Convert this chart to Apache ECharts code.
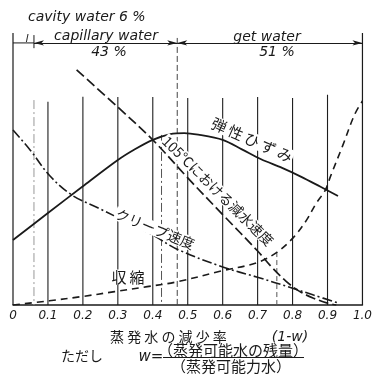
<!DOCTYPE html>
<html><head><meta charset="utf-8">
<script src="https://cdn.jsdelivr.net/npm/echarts@6/dist/echarts.min.js"></script>
<style>html,body{margin:0;padding:0;background:#fff}#c{width:375px;height:378px}</style>
</head><body><div id="c"></div>
<script>
// ---- data ----
const tickValues = [0, 0.1, 0.2, 0.3, 0.4, 0.5, 0.6, 0.7, 0.8, 0.9, 1.0];
const tickLabels = ['0', '0.1', '0.2', '0.3', '0.4', '0.5', '0.6', '0.7', '0.8', '0.9', '1.0'];

// 弾性ひずみ (elastic strain)
const elasticX = [0, 0.1, 0.2, 0.3, 0.35, 0.4, 0.45, 0.49, 0.53, 0.6, 0.655, 0.71, 0.77, 0.825, 0.88, 0.93];
const elasticY = [24.8, 35.1, 45.3, 55.3, 59.5, 63.0, 65.2, 65.6, 65.0, 63.0, 59.4, 55.6, 52.3, 48.9, 45.1, 41.6];
// 105℃における減水速度
const dryingX = [0.182, 0.3, 0.4, 0.5, 0.6, 0.7, 0.74, 0.78, 0.82, 0.86, 0.9, 0.925];
const dryingY = [89.7, 75.5, 63.0, 48.5, 34.5, 20.6, 14.5, 9.2, 5.2, 2.6, 0.7, 0];
// クリープ速度
const creepX = [0, 0.05, 0.104, 0.168, 0.244, 0.336, 0.403, 0.468, 0.6, 0.697, 0.798, 0.86, 0.93];
const creepY = [66.8, 59, 49.5, 42.0, 37.0, 31.0, 26.5, 21.4, 14.5, 10.7, 6.5, 3.8, 0.8];
// 収縮
const shrinkX = [0, 0.104, 0.196, 0.291, 0.384, 0.468, 0.6, 0.697, 0.756, 0.804, 0.84, 0.868, 0.894, 0.908, 0.944, 0.977, 1.0];
const shrinkY = [0, 1.6, 3.2, 5.1, 7.0, 8.8, 13.1, 16.1, 20.2, 26.0, 32.4, 38.9, 43.9, 48.9, 61, 72.5, 77.9];

// vertical reference lines
const gridLineX = [0.1, 0.2, 0.3, 0.4, 0.5, 0.6, 0.7, 0.8, 0.9];
const gridLineTop = [77.6, 79.5, 79.4, 79.4, 79.0, 79.0, 79.4, 79.0, 80.2];
const cavityX = 0.06, cavityTop = 78.2;
const boundaryX = 0.47, boundaryTop = 101.9;
const peakLineX = 0.425, peakLineTop = 64.9;
const lateLineX = 0.755, lateLineTop = 20.2;
const frameTop = 103.8;
const headerY = 100;

// ---- chart ----
const pairs = (xs, ys) => xs.map((x, i) => [x, ys[i]]);
const vline = (x, top) => [[x, top], [x, 0]];
const base = { type: 'line', symbol: 'none', silent: true, animation: false };
const black = '#1a1a1a';

const series = [];
// frame
series.push(Object.assign({}, base, { data: vline(0, frameTop), lineStyle: { color: black, width: 1.2 } }));
series.push(Object.assign({}, base, { data: vline(1, frameTop), lineStyle: { color: black, width: 1.2 } }));
gridLineX.forEach((x, i) => series.push(Object.assign({}, base, {
  data: vline(x, gridLineTop[i]), lineStyle: { color: '#1e1e1e', width: 1.1 }
})));
series.push(Object.assign({}, base, { data: vline(cavityX, cavityTop), lineStyle: { color: '#999', width: 1, type: [9, 3, 2, 3] } }));
series.push(Object.assign({}, base, { data: vline(peakLineX, peakLineTop), lineStyle: { color: '#555', width: 1, type: [9, 3, 2, 3] } }));
series.push(Object.assign({}, base, { data: vline(boundaryX, boundaryTop), lineStyle: { color: '#444', width: 1, type: [6, 3] } }));
series.push(Object.assign({}, base, { data: vline(lateLineX, lateLineTop), lineStyle: { color: '#555', width: 1, type: [5, 3] } }));
// header
series.push(Object.assign({}, base, { data: [[cavityX, headerY + 3], [cavityX, headerY - 2]], lineStyle: { color: black, width: 1 } }));
series.push(Object.assign({}, base, {
  data: [[0, headerY], [cavityX, headerY]], lineStyle: { color: black, width: 1 },
  markLine: {
    silent: true, animation: false, symbol: ['arrow', 'arrow'], symbolSize: [4, 10],
    label: { show: false }, lineStyle: { color: black, width: 1, type: 'solid' },
    data: [
      [{ coord: [cavityX, headerY] }, { coord: [boundaryX, headerY] }],
      [{ coord: [boundaryX, headerY] }, { coord: [1, headerY] }]
    ]
  }
}));
// curves
series.push(Object.assign({}, base, { data: pairs(elasticX, elasticY), smooth: 0.3, lineStyle: { color: black, width: 1.8 } }));
series.push(Object.assign({}, base, { data: pairs(dryingX, dryingY), smooth: 0.35, lineStyle: { color: black, width: 1.7, type: [10, 4] } }));
series.push(Object.assign({}, base, { data: pairs(creepX, creepY), smooth: 0.35, lineStyle: { color: black, width: 1.6, type: [10, 3, 2, 3] } }));
series.push(Object.assign({}, base, { data: pairs(shrinkX, shrinkY), smooth: 0.35, lineStyle: { color: black, width: 1.6, type: [7, 5] } }));

const jp = '"Noto Sans CJK JP", sans-serif';
const lat = '"DejaVu Sans", sans-serif';
function txt(text, x, y, font, opts) {
  opts = opts || {};
  return {
    type: 'text', x: x, y: y, rotation: opts.rot || 0, z: 50, silent: true,
    style: Object.assign({
      text: text, font: font, fill: '#1a1a1a',
      align: opts.align || 'center', verticalAlign: 'middle',
      textAlign: opts.align || 'center', textVerticalAlign: 'middle'
    }, opts.bg ? { backgroundColor: '#fff', padding: [0, 1] } : {})
  };
}

const chart = echarts.init(document.getElementById('c'), null, { renderer: 'canvas' });
chart.setOption({
  animation: false,
  backgroundColor: '#fff',
  grid: { left: 13, right: 5, top: 1, bottom: 73 },
  xAxis: {
    type: 'value', min: 0, max: 1, interval: 0.1,
    axisLine: { show: true, lineStyle: { color: black, width: 1.5 } },
    axisTick: { show: false }, splitLine: { show: false },
    axisLabel: {
      margin: 5, color: '#1a1a1a', fontStyle: 'italic', fontFamily: 'DejaVu Sans', fontSize: 12,
      formatter: v => tickLabels[tickValues.findIndex(t => Math.abs(t - v) < 1e-6)] || ''
    }
  },
  yAxis: { type: 'value', min: 0, max: 116, show: false },
  series: series,
  graphic: [
    txt('cavity water 6 %', 28, 17, 'italic 14px ' + lat, { align: 'left' }),
    txt('capillary water', 106, 36, 'italic 14px ' + lat),
    txt('43 %', 109, 52, 'italic 14px ' + lat),
    txt('get water', 267, 37, 'italic 14px ' + lat),
    txt('51 %', 277, 52, 'italic 14px ' + lat),
    txt('l', 27, 39, 'italic 11px ' + lat),
    txt('弾\u2009性\u2009ひ\u2009ず\u2009み', 252, 140, '15px ' + jp, { rot: -0.42, bg: true }),
    txt('105℃における減水速度', 218, 191, '14px ' + jp, { rot: -0.777, bg: true }),
    txt('クリープ速度', 155, 229, '14px ' + jp, { rot: -0.39, bg: true }),
    txt('収\u2009縮', 128, 277, '15px ' + jp, { bg: true }),
    txt('蒸 発 水 の 減 少 率 ', 110, 337, '14px ' + jp, { align: 'left' }),
    txt('(1-w)', 290, 337, 'italic 14px ' + lat),
    txt('ただし', 82, 356, '14px ' + jp),
    txt('w=', 151, 357, 'italic 15px ' + lat),
    txt('（蒸発可能水の残量）', 233, 350, '15px ' + jp),
    txt('（蒸発可能力水）', 231, 366, '15px ' + jp),
    { type: 'line', z: 50, silent: true, shape: { x1: 163, y1: 357.5, x2: 304, y2: 357.5 }, style: { stroke: '#1a1a1a', lineWidth: 1 } }
  ]
});
</script>
</body></html>
